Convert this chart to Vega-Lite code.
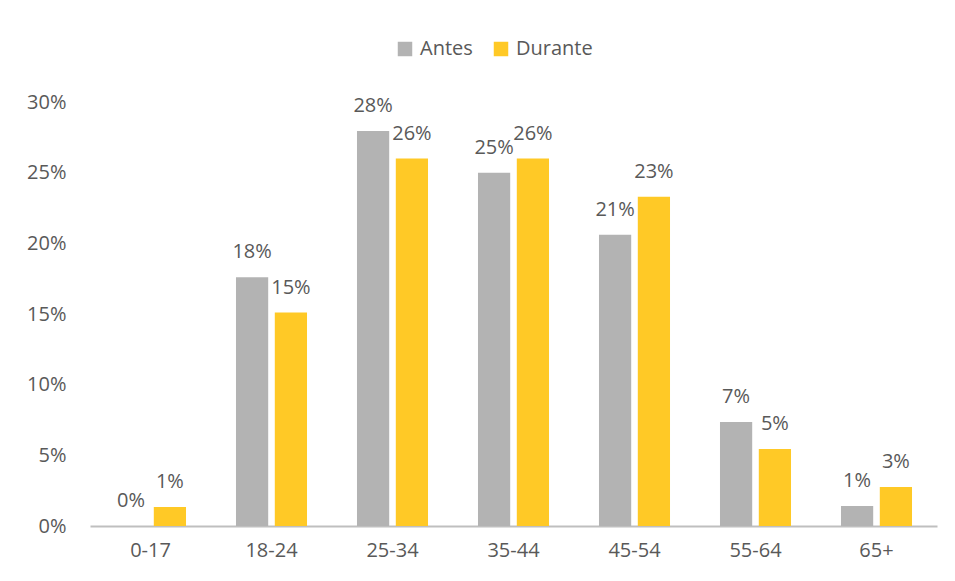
{
  "$schema": "https://vega.github.io/schema/vega-lite/v6.json",
  "autosize": {"type": "none"},
  "width": 847,
  "height": 424,
  "padding": {"left": 90, "top": 102, "right": 18, "bottom": 55},
  "background": "white",
  "config": {
    "view": {"stroke": null},
    "font": "Open Sans",
    "text": {"font": "Open Sans"}
  },
  "data": {
    "values": [
      {"grupo": "0-17", "periodo": "Antes", "valor": 0.0},
      {"grupo": "0-17", "periodo": "Durante", "valor": 0.0134},
      {"grupo": "18-24", "periodo": "Antes", "valor": 0.176},
      {"grupo": "18-24", "periodo": "Durante", "valor": 0.151},
      {"grupo": "25-34", "periodo": "Antes", "valor": 0.2795},
      {"grupo": "25-34", "periodo": "Durante", "valor": 0.26},
      {"grupo": "35-44", "periodo": "Antes", "valor": 0.25},
      {"grupo": "35-44", "periodo": "Durante", "valor": 0.26},
      {"grupo": "45-54", "periodo": "Antes", "valor": 0.206},
      {"grupo": "45-54", "periodo": "Durante", "valor": 0.233},
      {"grupo": "55-64", "periodo": "Antes", "valor": 0.0736},
      {"grupo": "55-64", "periodo": "Durante", "valor": 0.0545},
      {"grupo": "65+", "periodo": "Antes", "valor": 0.0142},
      {"grupo": "65+", "periodo": "Durante", "valor": 0.0276}
    ]
  },
  "encoding": {
    "x": {
      "field": "grupo",
      "type": "nominal",
      "sort": null,
      "scale": {"paddingInner": 0.413, "paddingOuter": 0.2065},
      "axis": {
        "title": null,
        "labelAngle": 0,
        "labelFontSize": 20,
        "labelColor": "#595959",
        "labelPadding": 14,
        "ticks": false,
        "domainColor": "#BFBFBF",
        "domainWidth": 2
      }
    },
    "xOffset": {
      "field": "periodo",
      "type": "nominal",
      "scale": {"paddingInner": 0.17, "paddingOuter": 0}
    },
    "y": {
      "field": "valor",
      "type": "quantitative",
      "scale": {"domain": [0, 0.3], "nice": false},
      "axis": {
        "title": null,
        "format": ".0%",
        "values": [0, 0.05, 0.1, 0.15, 0.2, 0.25, 0.3],
        "labelFontSize": 20,
        "labelColor": "#595959",
        "labelPadding": 24,
        "ticks": false,
        "domain": false,
        "grid": false
      }
    }
  },
  "layer": [
    {
      "mark": {"type": "bar"},
      "encoding": {
        "color": {
          "field": "periodo",
          "type": "nominal",
          "scale": {"domain": ["Antes", "Durante"], "range": ["#B3B3B3", "#FFC926"]},
          "legend": {
            "title": null,
            "orient": "none",
            "direction": "horizontal",
            "legendX": 305,
            "legendY": -63,
            "symbolType": "square",
            "symbolSize": 210,
            "symbolStrokeWidth": 0,
            "labelFontSize": 20,
            "labelColor": "#595959",
            "labelOffset": 5,
            "columnPadding": 18
          }
        }
      }
    },
    {
      "mark": {"type": "text", "baseline": "middle", "dy": -25, "fontSize": 20, "color": "#595959"},
      "encoding": {
        "text": {"field": "valor", "type": "quantitative", "format": ".0%"}
      }
    }
  ]
}
